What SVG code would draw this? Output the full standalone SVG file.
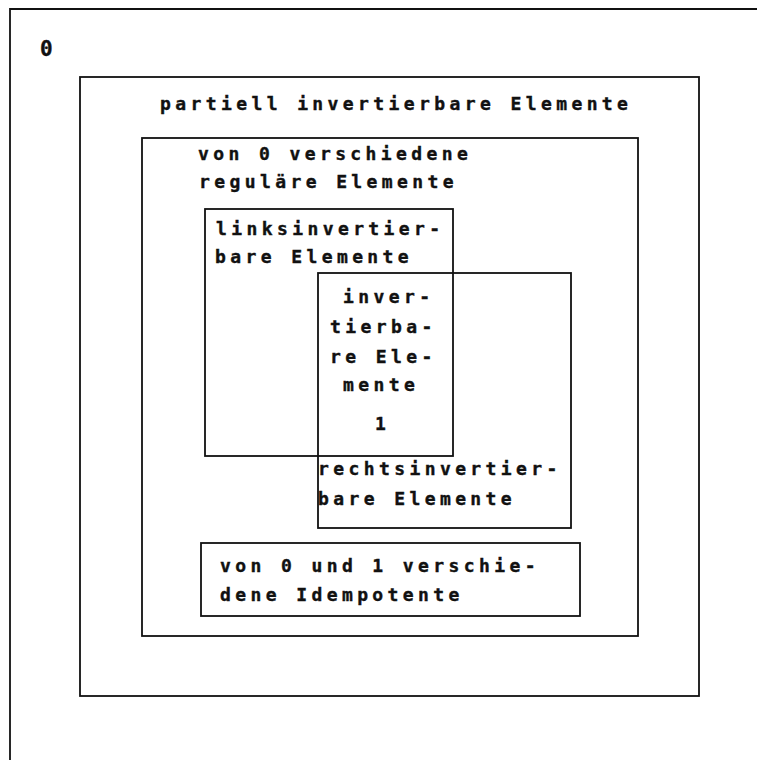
<svg xmlns="http://www.w3.org/2000/svg" width="757" height="760" viewBox="0 0 757 760">
<style>
.box{fill:none;stroke:#111;stroke-width:1.8}
.t{font-family:"DejaVu Sans Mono","Liberation Mono",monospace;font-weight:bold;font-size:18px;letter-spacing:4.4px;fill:#111;stroke:#111;stroke-width:0.4}
.z{font-family:"DejaVu Sans Mono","Liberation Mono",monospace;font-weight:bold;font-size:21px;fill:#111;stroke:#111;stroke-width:0.4}
</style>
<rect x="0" y="0" width="757" height="760" fill="#fff"/>
<g id="frame">
<path class="box" d="M10,760 V9 H757"/>
<text class="z" x="40" y="56">0</text>
</g>
<g id="partiell">
<rect class="box" x="80" y="77" width="619" height="619"/>
<text class="t" x="160" y="110">partiell invertierbare Elemente</text>
</g>
<g id="regulaer">
<rect class="box" x="142" y="138" width="496" height="498"/>
<text class="t" x="198" y="160">von 0 verschiedene</text>
<text class="t" x="199" y="188">reguläre Elemente</text>
</g>
<g id="links">
<rect class="box" x="205" y="209" width="248" height="247"/>
<text class="t" x="216" y="235">linksinvertier-</text>
<text class="t" x="215" y="263">bare Elemente</text>
</g>
<g id="rechts">
<rect class="box" x="318" y="273" width="253" height="255"/>
<text class="t" x="318" y="475">rechtsinvertier-</text>
<text class="t" x="318" y="505">bare Elemente</text>
</g>
<g id="invertierbar">
<text class="t" x="343" y="303">inver-</text>
<text class="t" x="330" y="333">tierba-</text>
<text class="t" x="330" y="363">re Ele-</text>
<text class="t" x="343" y="391">mente</text>
<text class="t" x="375" y="430">1</text>
</g>
<g id="idempotente">
<rect class="box" x="201" y="543" width="379" height="73"/>
<text class="t" x="220" y="572">von 0 und 1 verschie-</text>
<text class="t" x="220" y="601">dene Idempotente</text>
</g>
</svg>
